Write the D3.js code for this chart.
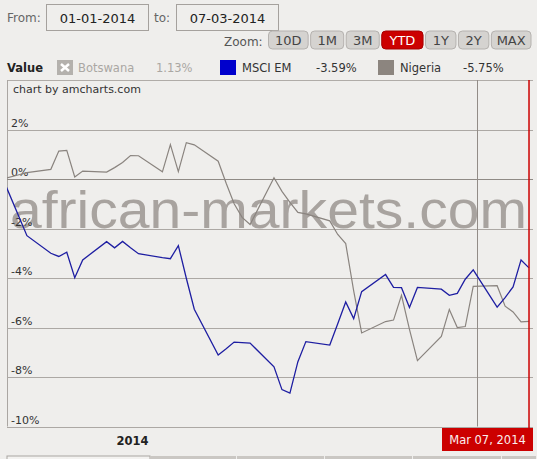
<!DOCTYPE html>
<html>
<head>
<meta charset="utf-8">
<script src="https://cdn.jsdelivr.net/npm/d3@7"></script>
<style>
  body { margin: 0; background: #efeeec; }
  svg { display: block; font-family: Verdana, "DejaVu Sans", sans-serif; }
</style>
</head>
<body>
<script>
var width = 537,
    height = 459;

// trading days shown on the chart (YTD, base = last close of 2013)
var dates = ["2013-12-31", "2014-01-02", "2014-01-03", "2014-01-06", "2014-01-07", "2014-01-08",
    "2014-01-09", "2014-01-10", "2014-01-13", "2014-01-14", "2014-01-15", "2014-01-16", "2014-01-17",
    "2014-01-20", "2014-01-21", "2014-01-22", "2014-01-23", "2014-01-24", "2014-01-27", "2014-01-28",
    "2014-01-29", "2014-01-30", "2014-01-31", "2014-02-03", "2014-02-04", "2014-02-05", "2014-02-06",
    "2014-02-07", "2014-02-10", "2014-02-11", "2014-02-12", "2014-02-13", "2014-02-14", "2014-02-17",
    "2014-02-18", "2014-02-19", "2014-02-20", "2014-02-21", "2014-02-24", "2014-02-25", "2014-02-26",
    "2014-02-27", "2014-02-28", "2014-03-03", "2014-03-04", "2014-03-05", "2014-03-06", "2014-03-07"];

var msciEm = [0, -1.53, -2.29, -3.0, -3.13, -2.96, -3.99, -3.27, -2.53, -2.78, -2.52, -2.78, -3.02,
    -3.18, -3.22, -2.69, -4.01, -5.26, -7.11, -6.86, -6.59, -6.61, -6.63, -7.59, -8.51, -8.65, -7.38,
    -6.57, -6.71, -5.85, -4.97, -5.64, -4.55, -3.86, -4.38, -4.39, -5.19, -4.38, -4.45, -4.70, -4.62,
    -4.05, -3.67, -5.18, -4.79, -4.36, -3.27, -3.59];

var nigeria = [0, 0.17, 0.26, 0.39, 1.13, 1.16, 0.08, 0.32, 0.28, 0.46, 0.67, 0.95, 0.94,
    0.29, 1.39, 0.30, 1.47, 1.38, 0.72, -0.17, -1.0, -1.55, -1.84, 0.05, -0.50, -0.94, -1.35,
    -1.41, -1.69, -2.24, -2.61, -4.52, -6.22, -5.76, -5.70, -4.70, -6.08, -7.34, -6.36, -5.27, -6.00,
    -5.96, -4.34, -4.31, -5.14, -5.37, -5.77, -5.75];

var yTicks = [2, 0, -2, -4, -6, -8, -10];

var legendItems = [
    { name: "Botswana", value: "1.13%", color: "#b4b1ad", hidden: true },
    { name: "MSCI EM", value: "-3.59%", color: "#0000cc", hidden: false },
    { name: "Nigeria", value: "-5.75%", color: "#8c857f", hidden: false }
];

var zoomButtons = ["10D", "1M", "3M", "YTD", "1Y", "2Y", "MAX"];

var parseDay = d3.timeParse("%Y-%m-%d");
// amCharts centres each daily point in its period
var days = dates.map(function (s) { return d3.timeHour.offset(parseDay(s), 12); });

var plot = { left: 7, right: 533, top: 80, bottom: 426.5 };

var x = d3.scaleTime()
    .domain([parseDay("2014-01-01"), parseDay("2014-03-08")])
    .range([plot.left, plot.right]);

var y = d3.scaleLinear()
    .domain([-10, 4])
    .range([plot.bottom, plot.top]);

var svg = d3.select("body").append("svg").attr("width", width).attr("height", height);

svg.append("rect").attr("width", width).attr("height", height).attr("fill", "#efeeec");

// ---- period inputs ----
var header = svg.append("g");
header.append("text").attr("x", 7).attr("y", 22).text("From:")
    .style("font-size", "12px").attr("fill", "#666");
header.append("text").attr("x", 154).attr("y", 22).text("to:")
    .style("font-size", "12px").attr("fill", "#666");

[[46.5, "01-01-2014"], [176.5, "07-03-2014"]].forEach(function (b) {
    header.append("rect").attr("x", b[0]).attr("y", 4.5).attr("width", 102).attr("height", 26)
        .attr("fill", "none").attr("stroke", "#a5a19d");
    header.append("text").attr("x", b[0] + 51).attr("y", 22.5).attr("text-anchor", "middle")
        .text(b[1]).style("font-size", "13px").attr("fill", "#222");
});

header.append("text").attr("x", 224).attr("y", 46).text("Zoom:")
    .style("font-size", "12px").attr("fill", "#555");

var btnWidths = { "10D": 1.2, "1M": 1.0, "3M": 1.0, "YTD": 1.25, "1Y": 0.92, "2Y": 0.92, "MAX": 1.2 };
var totalW = d3.sum(zoomButtons, function (b) { return btnWidths[b]; });
var gap = 2.5, bx = 268.5;
var avail = 531 - 268.5 - gap * (zoomButtons.length - 1);
zoomButtons.forEach(function (b) {
    var w = avail * btnWidths[b] / totalW;
    var active = b === "YTD";
    header.append("rect").attr("x", bx).attr("y", 31).attr("width", w).attr("height", 18).attr("rx", 4)
        .attr("fill", active ? "#cc0000" : "#d5d3d0")
        .attr("stroke", active ? "#a80000" : "#b5b2af");
    header.append("text").attr("x", bx + w / 2).attr("y", 45).attr("text-anchor", "middle")
        .text(b).style("font-size", "13px").attr("fill", active ? "#fff" : "#444");
    bx += w + gap;
});

// ---- legend ----
var legend = svg.append("g");
legend.append("text").attr("x", 7).attr("y", 72).text("Value")
    .style("font-size", "11.5px").style("font-weight", "bold").attr("fill", "#222");

var legendPos = [
    { sq: 57, name: 78, val: 156 },
    { sq: 220, name: 242, val: 316 },
    { sq: 378, name: 400, val: 463 }
];
legendItems.forEach(function (d, i) {
    var p = legendPos[i];
    legend.append("rect").attr("x", p.sq).attr("y", 60).attr("width", 16).attr("height", 15)
        .attr("fill", d.color);
    if (d.hidden) {
        legend.append("path")
            .attr("d", "M" + (p.sq + 4) + ",64L" + (p.sq + 12) + ",71M" + (p.sq + 12) + ",64L" + (p.sq + 4) + ",71")
            .attr("stroke", "#fff").attr("stroke-width", 2.5);
    }
    legend.append("text").attr("x", p.name).attr("y", 72).text(d.name)
        .style("font-size", "11.5px").attr("fill", d.hidden ? "#aaa7a3" : "#333");
    legend.append("text").attr("x", p.val).attr("y", 72).text(d.value)
        .style("font-size", "11.5px").attr("fill", d.hidden ? "#aaa7a3" : "#333");
});

// ---- plot area ----
var chart = svg.append("g");

chart.append("defs").append("clipPath").attr("id", "clip")
    .append("rect").attr("x", plot.left).attr("y", plot.top)
    .attr("width", plot.right - plot.left).attr("height", plot.bottom - plot.top);

// frame
chart.append("line").attr("x1", plot.left).attr("x2", plot.right).attr("y1", plot.top + 0.5).attr("y2", plot.top + 0.5)
    .attr("stroke", "#b0aca8");
chart.append("line").attr("x1", plot.left + 0.5).attr("x2", plot.left + 0.5).attr("y1", plot.top).attr("y2", plot.bottom)
    .attr("stroke", "#aaa6a2");

chart.append("text").attr("x", 13).attr("y", 93).text("chart by amcharts.com")
    .style("font-size", "11px").attr("fill", "#333");

// horizontal grid
chart.append("g").selectAll("line").data(yTicks).enter().append("line")
    .attr("x1", plot.left).attr("x2", plot.right)
    .attr("y1", function (d) { return Math.round(y(d)) + 0.5; })
    .attr("y2", function (d) { return Math.round(y(d)) + 0.5; })
    .attr("stroke", function (d) { return d === 0 ? "#8f8a85" : "#aca8a4"; })
    .attr("stroke-width", 1);

// vertical grid (month start)
chart.append("line")
    .attr("x1", Math.round(x(parseDay("2014-03-01"))) + 0.5)
    .attr("x2", Math.round(x(parseDay("2014-03-01"))) + 0.5)
    .attr("y1", plot.top).attr("y2", plot.bottom)
    .attr("stroke", "#928c87");

// watermark
chart.append("text").attr("x", 10).attr("y", 228).text("african-markets.com")
    .attr("textLength", 517).attr("lengthAdjust", "spacingAndGlyphs")
    .style("font-family", "'Liberation Sans', Arial, sans-serif")
    .style("font-size", "51px").attr("fill", "#a8a39f");

chart.append("g").selectAll("text").data(yTicks).enter().append("text")
    .attr("x", 11)
    .attr("y", function (d) { return y(d) - 3; })
    .text(function (d) { return d + "%"; })
    .style("font-size", "11px").attr("fill", "#333");

var line = d3.line()
    .x(function (d) { return x(d.date); })
    .y(function (d) { return y(d.value); });

function series(values) {
    return values.map(function (v, i) { return { date: days[i], value: v }; });
}

var lines = chart.append("g").attr("clip-path", "url(#clip)");
lines.append("path").datum(series(nigeria)).attr("d", line)
    .attr("fill", "none").attr("stroke", "#8a847f").attr("stroke-width", 1.2);
lines.append("path").datum(series(msciEm)).attr("d", line)
    .attr("fill", "none").attr("stroke", "#1e1ea2").attr("stroke-width", 1.3);

// x axis label
svg.append("text").attr("x", 132.5).attr("y", 445).attr("text-anchor", "middle").text("2014")
    .style("font-size", "11.5px").style("font-weight", "bold").attr("fill", "#222");

// cursor
var cursorX = x(days[days.length - 1]);
svg.append("line").attr("x1", cursorX).attr("x2", cursorX).attr("y1", plot.top).attr("y2", 429)
    .attr("stroke", "#cc0000").attr("stroke-width", 1.5);
svg.append("rect").attr("x", 442).attr("y", 428).attr("width", 91).attr("height", 23)
    .attr("fill", "#cc0000");
svg.append("text").attr("x", 487.5).attr("y", 444).attr("text-anchor", "middle")
    .text(d3.timeFormat("%b %d, %Y")(days[days.length - 1]))
    .style("font-size", "11.5px").attr("fill", "#fbeeee");

// scrollbar strip at the bottom
svg.append("rect").attr("x", 7).attr("y", 456).attr("width", 143).attr("height", 4)
    .attr("fill", "#f3f2f0").attr("stroke", "#a9a5a1");
[[150, 237], [237, 325], [325, 413], [413, 502], [502, 537]].forEach(function (s) {
    svg.append("rect").attr("x", s[0]).attr("y", 456).attr("width", s[1] - s[0] - 1).attr("height", 4)
        .attr("fill", "#cac7c3");
});
</script>
</body>
</html>
